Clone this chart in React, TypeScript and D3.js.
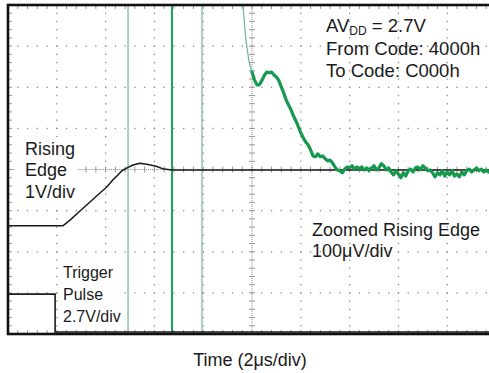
import React from "react";
import * as d3 from "d3";

const W = 489;
const H = 373;

// Time axis in µs (2 µs/div, 0 = screen centre); vertical values in screen divisions from centre
const timeDomain = [-10, 10];
const divDomain = [-4, 4];
const majorTimes = [-8, -6, -4, -2, 2, 4, 6, 8];
const majorDivs = [-3, -2, -1, 1, 2, 3];

// Rising edge (1 V/div), in divisions
const risingT = [-10, -7.75, -7.46, -7.05, -6.64, -6.23, -5.94, -5.7, -5.49, -5.33, -5.12, -4.88, -4.59, -4.26, -3.93, -3.61, -3.28, 10];
const risingV = [-1.37, -1.37, -1.23, -1.01, -0.79, -0.57, -0.42, -0.25, -0.13, -0.03, 0.04, 0.11, 0.15, 0.12, 0.08, 0.01, -0.01, -0.01];

// Trigger pulse (2.7 V/div), in divisions
const triggerT = [-10, -8.07, -8.07, 10];
const triggerV = [-3.03, -3.03, -3.95, -3.95];

// Zoomed rising edge channel (100 µV/div), in µV from centre
const saturatedT = [-5.08, -3.28, -2.05];
const leadT = [-0.55, -0.37, -0.25, -0.12, 0];
const leadUV = [450, 400, 315, 262, 237];
const zoomStart = 0;
const zoomDt = 0.1;
const zoomUV = [237, 218, 206, 206, 216, 228, 237, 235, 237, 230, 225, 216, 201, 186, 169, 157, 145, 130, 118, 104, 89, 77, 67, 60, 48, 33, 31, 38, 31, 33, 26, 21, 23, 16, 6, -1, -3, -8, 1, 6, 4, 9, 1, 6, 1, 6, -1, 4, -3, 4, 9, -1, 4, 14, 9, -1, 4, -6, -13, -3, -11, -20, -8, -16, -3, 1, -6, 4, 6, -1, 9, 4, -3, -1, -8, -18, -8, -13, -3, -16, -6, -13, -3, -16, -11, -18, -6, -13, -3, 1, -6, -1, 4, -3, 1, -6, -1, -6];
const uvPerDiv = 100;

const FONT = "'Liberation Sans', Arial, Helvetica, sans-serif";

export default function App() {
  const x = d3.scaleLinear().domain(timeDomain).range([8, 496]);
  const y = d3.scaleLinear().domain(divDomain).range([334, 5]);

  const minorT = d3.range(timeDomain[0], timeDomain[1] + 0.001, 0.4);
  const minorD = d3.range(divDomain[0], divDomain[1] + 0.001, 0.2);
  const fineD = d3.range(divDomain[0], divDomain[1] + 0.001, 0.05);
  const fineT = d3.range(timeDomain[0], timeDomain[1] + 0.001, 0.08);

  const line = d3
    .line<[number, number]>()
    .x((d) => x(d[0]))
    .y((d) => y(d[1]));

  const rising = risingT.map((t, i) => [t, risingV[i]] as [number, number]);
  const trigger = triggerT.map((t, i) => [t, triggerV[i]] as [number, number]);
  const lead = leadT.map((t, i) => [t, leadUV[i] / uvPerDiv] as [number, number]);
  const zoom = zoomUV.map((v, i) => [zoomStart + i * zoomDt, v / uvPerDiv] as [number, number]);

  const grid = "#8a8a8a";

  return (
    <div style={{ position: "absolute", left: 0, top: 0 }}>
      <svg width={W} height={H} style={{ display: "block", background: "#fff" }}>
        <defs>
          <clipPath id="plot">
            <rect x={8} y={5} width={488} height={329} />
          </clipPath>
        </defs>
        <g clipPath="url(#plot)">
          {/* dotted grid */}
          {majorTimes.map((t) =>
            minorD.map((d) => (
              <rect key={`v${t}_${d}`} x={x(t) - 0.6} y={y(d) - 0.6} width={1.3} height={1.3} fill={grid} />
            ))
          )}
          {majorDivs.map((dv) =>
            minorT.map((t) => (
              <rect key={`h${dv}_${t}`} x={x(t) - 0.6} y={y(dv) - 0.6} width={1.3} height={1.3} fill={grid} />
            ))
          )}
          {/* centre axes */}
          {fineD.map((d) => (
            <rect key={`cv${d}`} x={x(0) - 0.5} y={y(d) - 0.5} width={1} height={1} fill={grid} />
          ))}
          {fineT.map((t) => (
            <rect key={`ch${t}`} x={x(t) - 0.5} y={y(0) - 0.5} width={1} height={1} fill={grid} />
          ))}
          {minorD.map((d) => (
            <line key={`cvt${d}`} x1={x(0) - 3} x2={x(0) + 3} y1={y(d)} y2={y(d)} stroke={grid} strokeWidth={0.9} />
          ))}
          {minorT.map((t) => (
            <line key={`cht${t}`} x1={x(t)} x2={x(t)} y1={y(0) - 3} y2={y(0) + 3} stroke={grid} strokeWidth={0.9} />
          ))}
          {/* frame ticks */}
          {minorT.map((t) => (
            <g key={`ft${t}`}>
              <line x1={x(t)} x2={x(t)} y1={y(4)} y2={y(4) + 4} stroke={grid} strokeWidth={0.9} />
              <line x1={x(t)} x2={x(t)} y1={y(-4)} y2={y(-4) - 4} stroke={grid} strokeWidth={0.9} />
            </g>
          ))}
          {minorD.map((d) => (
            <line key={`fl${d}`} x1={x(-10)} x2={x(-10) + 4} y1={y(d)} y2={y(d)} stroke={grid} strokeWidth={0.9} />
          ))}

          {/* saturated spikes of zoomed channel */}
          {saturatedT.map((t, i) => (
            <line
              key={`s${t}`}
              x1={x(t)}
              x2={x(t)}
              y1={y(4)}
              y2={y(-4)}
              stroke={i === 1 ? "#1f9e5c" : "#86bdb0"}
              strokeWidth={i === 1 ? 2 : 1.4}
            />
          ))}

          {/* text backgrounds */}
          <rect x={15} y={137} width={63} height={66} fill="#fff" />
          <rect x={61} y={258} width={60} height={70} fill="#fff" />

          {/* traces */}
          <path d={line(trigger) || ""} fill="none" stroke="#1a1a1a" strokeWidth={1.6} />
          <path d={line(rising) || ""} fill="none" stroke="#1a1a1a" strokeWidth={1.5} strokeLinejoin="round" />
          <path d={line(lead) || ""} fill="none" stroke="#6fb3a0" strokeWidth={1.2} />
          <path d={line(zoom) || ""} fill="none" stroke="#15994e" strokeWidth={3.2} strokeLinejoin="round" strokeLinecap="round" />
        </g>
        {/* frame */}
        <rect x={8} y={5} width={490} height={329} fill="none" stroke="#111" strokeWidth={2.6} />

        {/* labels */}
        <g fontFamily={FONT} fill="#1a1a1a">
          <text x={326} y={32} fontSize={18.5}>
            AV<tspan fontSize={12} dy={3}>DD</tspan>
            <tspan dy={-3}> = 2.7V</tspan>
          </text>
          <text x={326} y={55} fontSize={18.5}>From Code: 4000h</text>
          <text x={326} y={77} fontSize={18.5}>To Code: C000h</text>

          <text x={25} y={155} fontSize={18}>Rising</text>
          <text x={25} y={176} fontSize={18}>Edge</text>
          <text x={25} y={198} fontSize={18}>1V/div</text>

          <text x={312} y={236} fontSize={18}>Zoomed Rising Edge</text>
          <text x={312} y={257} fontSize={18}>100μV/div</text>

          <text x={63} y={278} fontSize={16}>Trigger</text>
          <text x={63} y={300} fontSize={16}>Pulse</text>
          <text x={63} y={322} fontSize={16}>2.7V/div</text>

          <text x={250} y={366} fontSize={18} textAnchor="middle">Time (2μs/div)</text>
        </g>
      </svg>
    </div>
  );
}
